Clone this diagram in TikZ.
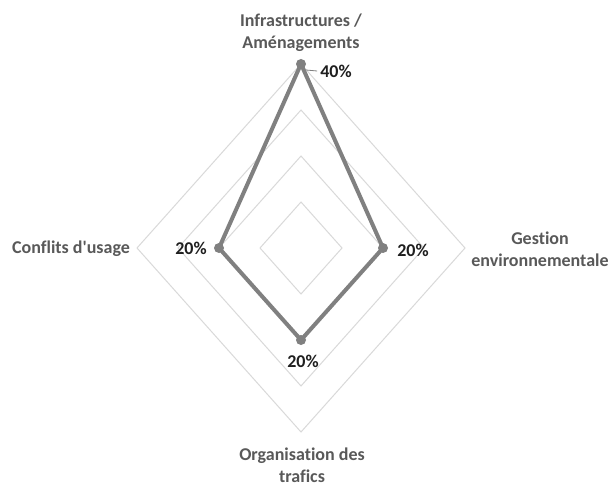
\documentclass[tikz,border=0pt]{standalone}
\usepackage{fontspec}
\setmainfont{Carlito}[Ligatures={TeXOff,NoCommon}]
\definecolor{cattext}{HTML}{595959}
\definecolor{valtext}{HTML}{1F1F1F}
\definecolor{gridc}{HTML}{D9D9D9}
\definecolor{serie}{HTML}{808080}
\begin{document}
\begin{tikzpicture}[x=1pt,y=1pt,
  cat/.style={text=cattext,font=\fontsize{18}{22.5}\selectfont\bfseries,align=center,inner sep=0pt},
  val/.style={text=valtext,font=\fontsize{18}{22}\selectfont\bfseries,inner sep=0pt},
  ring/.style={draw=gridc,line width=1pt},
  serieline/.style={draw=serie,line width=4pt,line join=round},
  dot/.style={circle,fill=serie,minimum size=10pt,inner sep=0pt}]
\useasboundingbox (0,0) rectangle (612,-486);
\fill[white] (0,0) rectangle (612,-486);
% grid rings
\foreach \k in {1,2,3,4}{
  \draw[ring] (301,-248+46*\k) -- (301+41*\k,-248) -- (301,-248-46*\k) -- (301-41*\k,-248) -- cycle;
}
% data points
\coordinate (pT) at (301,-64);
\coordinate (pR) at (383,-248);
\coordinate (pB) at (301,-340);
\coordinate (pL) at (219,-248);
\draw[serieline] (pT) -- (pR) -- (pB) -- (pL) -- cycle;
\node[dot] (mT) at (pT) {};
\node[dot] (mR) at (pR) {};
\node[dot] (mB) at (pB) {};
\node[dot] (mL) at (pL) {};
% value labels
\node[val] (vT) at (336,-71) {40\%};
\node[val] (vR) at (413,-250) {20\%};
\node[val] (vB) at (303,-361) {20\%};
\node[val] (vL) at (191,-248) {20\%};
\coordinate (lead) at (306,-70);
\draw[draw=serie,line width=0.8pt] (lead) -- ([xshift=-3pt]vT.west);
% category labels
\node[cat] (cT) at (301,-32.5) {Infrastructures /\\Aménagements};
\node[cat] (cR) at (540,-249) {Gestion\\environnementale};
\node[cat] (cB) at (302,-465) {Organisation des\\trafics};
\node[cat] (cL) at (71,-249) {Conflits d'usage};
\end{tikzpicture}
\end{document}
